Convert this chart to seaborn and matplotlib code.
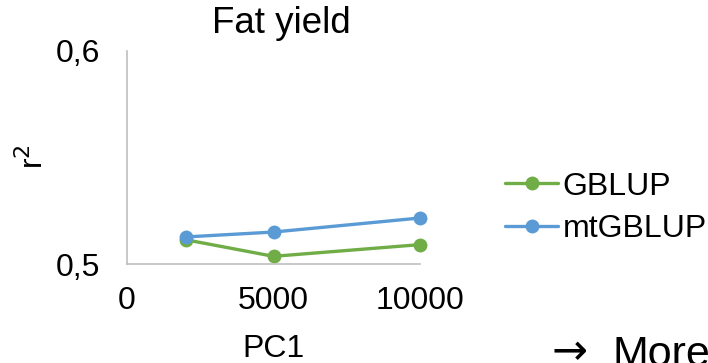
import pandas as pd
import numpy as np
import matplotlib
matplotlib.use("Agg")
import matplotlib.pyplot as plt
from matplotlib.ticker import FuncFormatter
from matplotlib.lines import Line2D
import seaborn as sns

# data
pc1 = [2000, 5000, 10000]
gblup = [0.5114, 0.5036, 0.5091]
mtgblup = [0.5127, 0.5150, 0.5216]
models = ["GBLUP", "mtGBLUP"]
colors = ["#70AD47", "#5B9BD5"]

df = pd.DataFrame({
    "PC1": pc1 * 2,
    "r2": gblup + mtgblup,
    "model": [models[0]] * len(pc1) + [models[1]] * len(pc1),
})

sns.set_style("white")
plt.rcParams['font.family'] = ['Liberation Sans', 'DejaVu Sans']
plt.rcParams['text.color'] = 'black'

fs = 23

fig = plt.figure(figsize=(7.08, 3.63), dpi=100)
ax = fig.add_axes([127 / 708, 1 - 264 / 363, (420 - 127) / 708, (264 - 51) / 363])

sns.lineplot(data=df, x="PC1", y="r2", hue="model", hue_order=models,
             palette=colors, marker="o", markersize=10, markeredgewidth=0,
             linewidth=2.4, ax=ax, legend=False, clip_on=False)

ax.set_xlim(0, 10000)
ax.set_ylim(0.5, 0.6)
ax.set_xticks([0, 5000, 10000])
ax.set_yticks([0.5, 0.6])
ax.yaxis.set_major_formatter(FuncFormatter(lambda v, p: ("%.1f" % v).replace(".", ",")))
ax.tick_params(axis="both", length=0, labelsize=fs, colors="black")
ax.tick_params(axis="y", pad=19)
ax.tick_params(axis="x", pad=16)

for s in ["top", "right"]:
    ax.spines[s].set_visible(False)
for s in ["left", "bottom"]:
    ax.spines[s].set_color("#BFBFBF")
    ax.spines[s].set_linewidth(1.2)

ax.set_xlabel("PC1", fontsize=fs, labelpad=13, color="black")
ax.set_ylabel("")
fig.text(34 / 708, 1 - 157 / 363, "r$^2$", rotation=90, fontsize=fs,
         ha="center", va="center")
fig.text(281 / 708, 1 - 33 / 363, "Fat yield", fontsize=26.5, ha="center",
         va="baseline")

handles = [Line2D([], [], color=c, marker="o", markersize=10, markeredgewidth=0,
                  linewidth=2.4) for c in colors]
fig.legend(handles, models, loc="center left", bbox_to_anchor=(505 / 708, 1 - 208 / 363),
           frameon=False, fontsize=fs, handlelength=1.66, handletextpad=0.15,
           labelspacing=0.4, borderpad=0, borderaxespad=0)

# "More" link text, cut off at the lower right edge as in the original
fig.text(552 / 708, 1 - 364 / 363, "\u2192", fontsize=31, ha="left", va="baseline",
         family="DejaVu Sans")
fig.text(612 / 708, 1 - 335 / 363, "More", fontsize=31, ha="left", va="top")

fig.savefig("out.png", dpi=100)
